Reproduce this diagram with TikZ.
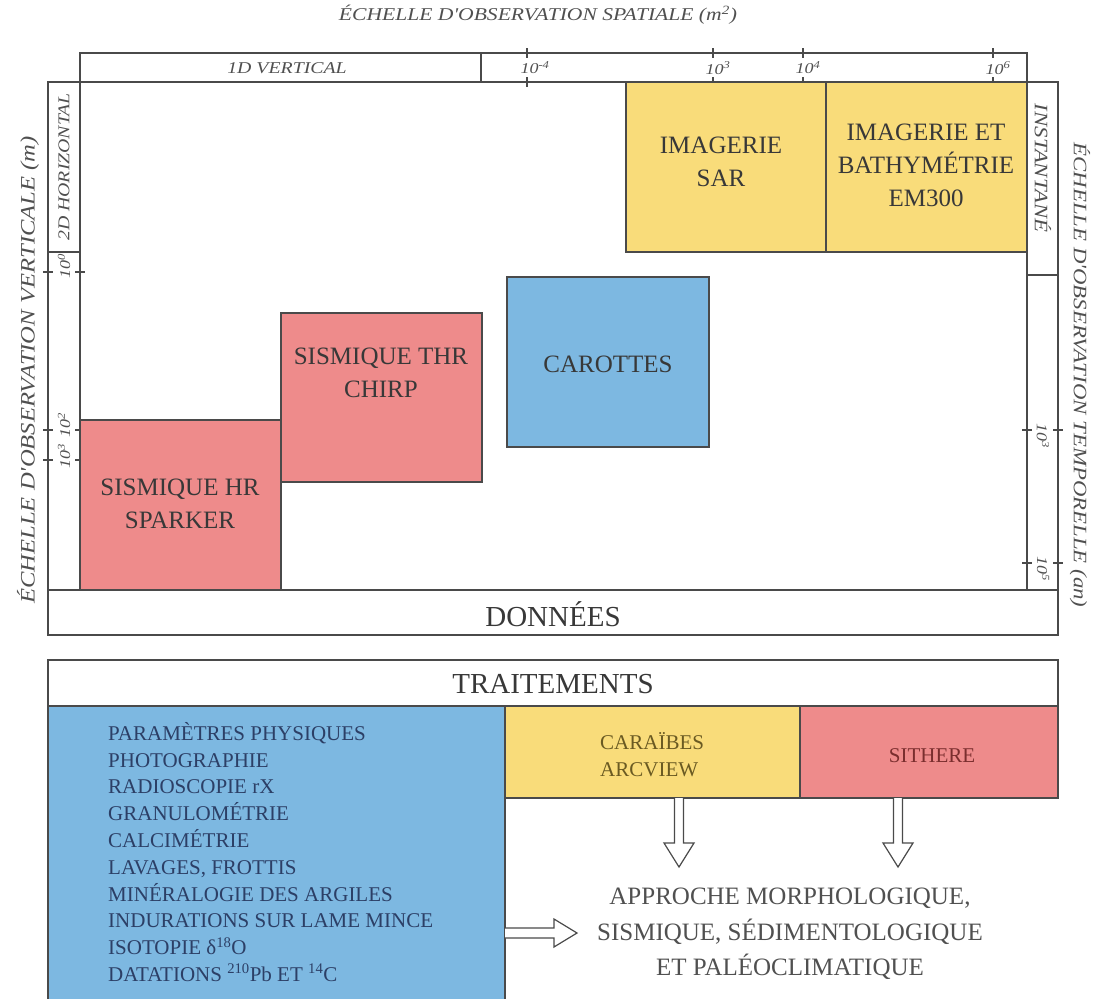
\documentclass[tikz,border=0pt]{standalone}
\usepackage{fontspec}
\setmainfont{Liberation Serif}
\newfontfamily\axisfont[FakeStretch=1.2]{Liberation Serif}
\usetikzlibrary{calc}
\definecolor{cyel}{HTML}{F9DC7A}
\definecolor{cred}{HTML}{EE8B8B}
\definecolor{cblue}{HTML}{7DB8E1}
\definecolor{cline}{HTML}{4A4A4A}
\definecolor{ctext}{HTML}{383838}
\definecolor{cnavy}{HTML}{2C3F66}
\definecolor{colive}{HTML}{6A5A22}
\definecolor{cdred}{HTML}{7A2E2E}
\definecolor{caxis}{HTML}{505050}
\begin{document}
\begin{tikzpicture}[x=1pt,y=-1pt,
  cell/.style={draw=cline, line width=1.3pt, rectangle, inner sep=0pt, outer sep=0pt, anchor=north west},
  lab/.style={text=ctext, align=center, font=\fontsize{25}{33}\selectfont, inner sep=0pt},
  big/.style={text=ctext, align=center, font=\fontsize{29}{34}\selectfont, inner sep=0pt},
  small/.style={inner sep=0pt, font=\fontsize{21}{26.8}\selectfont},
  axt/.style={text=caxis, inner sep=0pt, font=\axisfont\itshape\fontsize{19}{22}\selectfont},
  axs/.style={text=caxis, inner sep=0pt, font=\axisfont\itshape\fontsize{15}{18}\selectfont},
  axm/.style={text=caxis, inner sep=0pt, font=\axisfont\itshape\fontsize{16.5}{18}\selectfont},
  tick/.style={draw=cline, line width=1.3pt},
  harrow/.style={draw=cline, line width=1.2pt, fill=white, line join=miter}
]
\useasboundingbox (0,0) rectangle (1096,999);

% ---- data panel frame ----
\node[cell, minimum width=947pt, minimum height=29pt] (topaxis) at (80,53) {};
\node[cell, minimum width=1010pt, minimum height=553pt] (frame) at (48,82) {};
\node[cell, minimum width=32pt, minimum height=508pt] (lstrip) at (48,82) {};
\node[cell, minimum width=31pt, minimum height=508pt] (rstrip) at (1027,82) {};
\node[cell, minimum width=1010pt, minimum height=45pt] (donbox) at (48,590) {};
\draw[tick] (481,53) -- (481,82);
\draw[tick] (48,252) -- (80,252);
\draw[tick] (1027,275) -- (1058,275);

% top ticks
\foreach \x in {527,713,803,993} {
  \draw[tick] (\x,48) -- (\x,58);
  \draw[tick] (\x,77) -- (\x,87);
}
\node[axs] (t1) at (535,68) {10\textsuperscript{-4}};
\node[axs] (t2) at (718,68) {10\textsuperscript{3}};
\node[axs] (t3) at (808,68) {10\textsuperscript{4}};
\node[axs] (t4) at (998,68) {10\textsuperscript{6}};
\node[axm] (vert1d) at (287,68) {1D VERTICAL};

% left ticks
\foreach \y in {272,430,460} {
  \draw[tick] (43,\y) -- (53,\y);
  \draw[tick] (75,\y) -- (85,\y);
}
\node[axs, rotate=90] (l1) at (64,266) {10\textsuperscript{0}};
\node[axs, rotate=90] (l2) at (64,425) {10\textsuperscript{2}};
\node[axs, rotate=90] (l3) at (64,456) {10\textsuperscript{3}};
\node[axm, rotate=90] (hor2d) at (64,167) {2D HORIZONTAL};

% right ticks
\foreach \y in {430,563} {
  \draw[tick] (1022,\y) -- (1032,\y);
  \draw[tick] (1053,\y) -- (1063,\y);
}
\node[axs, rotate=-90] (r1) at (1043,436) {10\textsuperscript{3}};
\node[axs, rotate=-90] (r2) at (1043,569) {10\textsuperscript{5}};
\node[axm, font=\axisfont\itshape\fontsize{19}{20}\selectfont, rotate=-90] (inst) at (1043,168) {INSTANTANÉ};

% axis titles
\node[axt, font=\axisfont\itshape\fontsize{18}{22}\selectfont] (titsp) at (538,15) {ÉCHELLE D'OBSERVATION SPATIALE (m\textsuperscript{2})};
\node[axt, font=\axisfont\itshape\fontsize{20.5}{22}\selectfont, rotate=90] (titvert) at (28,370) {ÉCHELLE D'OBSERVATION VERTICALE (m)};
\node[axt, rotate=-90] (tittemp) at (1080,375) {ÉCHELLE D'OBSERVATION TEMPORELLE (an)};

% ---- data boxes ----
\node[cell, fill=cred, minimum width=201pt, minimum height=170pt] (sparker) at (80,420) {};
\node[cell, fill=cred, minimum width=201pt, minimum height=169pt] (chirp) at (281,313) {};
\node[cell, fill=cblue, minimum width=202pt, minimum height=170pt] (carottes) at (507,277) {};
\node[cell, fill=cyel, minimum width=200pt, minimum height=170pt] (sar) at (626,82) {};
\node[cell, fill=cyel, minimum width=201pt, minimum height=170pt] (em300) at (826,82) {};

\node[lab] (tsparker) at (180,504) {SISMIQUE HR\\SPARKER};
\node[lab] (tchirp) at (381,373) {SISMIQUE THR\\CHIRP};
\node[lab] (tcar) at (608,364) {CAROTTES};
\node[lab] (tsar) at (721,162) {IMAGERIE\\SAR};
\node[lab] (tem) at (926,165) {IMAGERIE ET\\BATHYMÉTRIE\\EM300};
\node[big] (tdon) at (553,614) {DONNÉES};

% ---- treatments ----
\node[cell, minimum width=1010pt, minimum height=46pt] (traitbox) at (48,660) {};
\node[big] (ttrait) at (553,684) {TRAITEMENTS};
\node[cell, fill=cblue, minimum width=457pt, minimum height=300pt] (bluebox) at (48,706) {};
\node[cell, fill=cyel, minimum width=295pt, minimum height=92pt] (carbox) at (505,706) {};
\node[cell, fill=cred, minimum width=258pt, minimum height=92pt] (sitbox) at (800,706) {};

\node[small, text=cnavy, align=left, anchor=north west] (list) at (108,722) {%
PARAMÈTRES PHYSIQUES\\
PHOTOGRAPHIE\\
RADIOSCOPIE rX\\
GRANULOMÉTRIE\\
CALCIMÉTRIE\\
LAVAGES, FROTTIS\\
MINÉRALOGIE DES ARGILES\\
INDURATIONS SUR LAME MINCE\\
ISOTOPIE δ\textsuperscript{18}O\\
DATATIONS \textsuperscript{210}Pb ET \textsuperscript{14}C};
\node[small, text=colive, align=left, anchor=west] (tcara) at (600,755) {CARAÏBES\\ARCVIEW};
\node[small, text=cdred] (tsit) at (932,756) {SITHERE};

\node[lab, text=caxis, font=\fontsize{25}{35.5}\selectfont] (approche) at (790,934) {APPROCHE MORPHOLOGIQUE,\\SISMIQUE, SÉDIMENTOLOGIQUE\\ET PALÉOCLIMATIQUE};

% hollow arrows
\coordinate (a1s) at ($(carbox.south)+(26.5,0)$);
\coordinate (a1e) at ($(a1s)+(0,69)$);
\coordinate (a2s) at ($(sitbox.south)+(-31,0)$);
\coordinate (a2e) at ($(a2s)+(0,69)$);
\foreach \s/\e in {a1s/a1e, a2s/a2e} {
  \draw[harrow] ($(\s)+(-4.5,0)$) -- ($(\e)+(-4.5,-24)$) -- ($(\e)+(-15,-24)$) -- (\e)
    -- ($(\e)+(15,-24)$) -- ($(\e)+(4.5,-24)$) -- ($(\s)+(4.5,0)$);
}
\coordinate (a3s) at (bluebox.east |- 0,933);
\coordinate (a3e) at ($(a3s)+(72,0)$);
\draw[harrow] ($(a3s)+(0,-5)$) -- ($(a3e)+(-23,-5)$) -- ($(a3e)+(-23,-14)$) -- (a3e)
  -- ($(a3e)+(-23,14)$) -- ($(a3e)+(-23,5)$) -- ($(a3s)+(0,5)$);
\end{tikzpicture}
\end{document}
